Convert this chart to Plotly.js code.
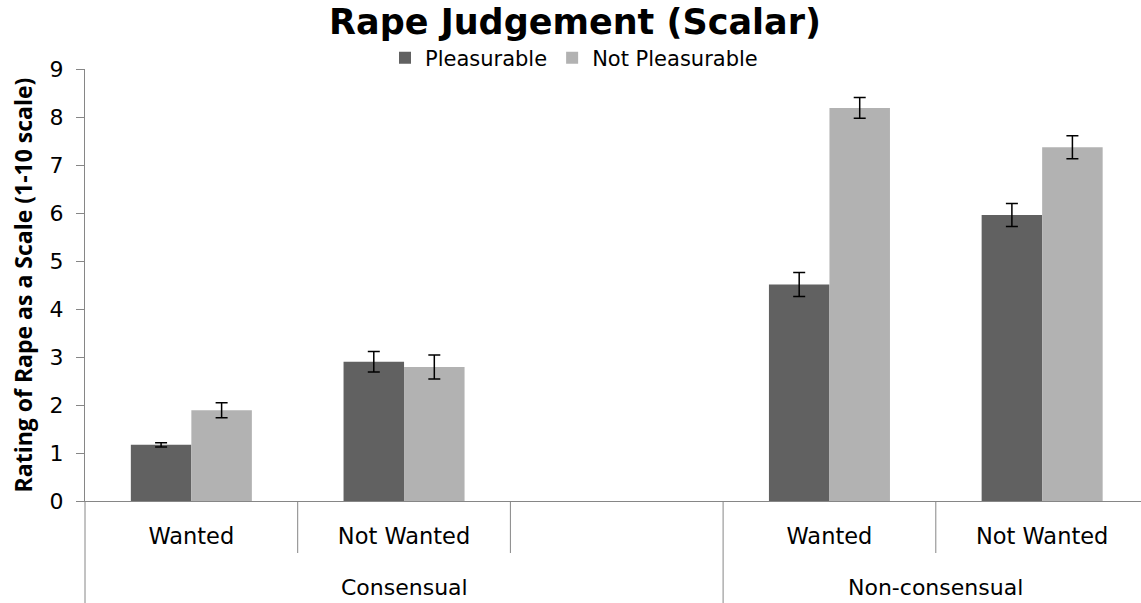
<!DOCTYPE html>
<html>
<head>
<meta charset="utf-8">
<script src="https://cdn.plot.ly/plotly-3.0.1.min.js"></script>
<style>
  html, body { margin: 0; padding: 0; background: #ffffff; }
  #chart { width: 1141px; height: 603px; }
</style>
</head>
<body>
<div id="chart"></div>
<script>
// ---- data ----
const categories = ["Wanted", "Not Wanted", "", "Wanted", "Not Wanted"];
const groups = ["Consensual", "Consensual", "Consensual", "Non-consensual", "Non-consensual"];
const seriesNames = ["Pleasurable", "Not Pleasurable"];
const pleasurable = [1.17, 2.90, null, 4.51, 5.96];
const pleasurableErr = [0.045, 0.215, null, 0.25, 0.24];
const notPleasurable = [1.89, 2.79, null, 8.19, 7.37];
const notPleasurableErr = [0.155, 0.25, null, 0.215, 0.24];
const yTickVals = [0, 1, 2, 3, 4, 5, 6, 7, 8, 9];

// ---- styling ----
const DARK = "#616161";
const LIGHT = "#b2b2b2";
const AXIS = "#868686";
const REG = "DejaVu Sans";

const xIdx = categories.map((_, i) => i);

function errBar(arr) {
  return { type: "data", array: arr, visible: true, color: "#000000", thickness: 1.5, width: 6 };
}

const traces = [
  {
    type: "bar", name: seriesNames[0], x: xIdx, y: pleasurable,
    marker: { color: DARK }, error_y: errBar(pleasurableErr), hoverinfo: "y"
  },
  {
    type: "bar", name: seriesNames[1], x: xIdx, y: notPleasurable,
    marker: { color: LIGHT }, error_y: errBar(notPleasurableErr), hoverinfo: "y"
  }
];

// geometry of the plot area
const W = 1141, H = 603;
const mL = 85, mT = 69, mB = 102, mR = 0;
const plotH = H - mT - mB;
const slotPx = 212.7;
const xMax = -0.5 + (W - mL - mR) / slotPx;

const shortBottom = -(553 - (H - mB)) / plotH;
const longBottom = -mB / plotH;

// dividers between category slots, long when the group changes
const shapes = [];
shapes.push({ type: "line", xref: "paper", yref: "paper", x0: 0, x1: 0, y0: 0, y1: longBottom,
  line: { color: AXIS, width: 1 } });
for (let i = 0; i < categories.length - 1; i++) {
  const long = groups[i] !== groups[i + 1];
  shapes.push({ type: "line", xref: "x", yref: "paper", x0: i + 0.5, x1: i + 0.5,
    y0: 0, y1: long ? longBottom : shortBottom, line: { color: AXIS, width: 1 } });
}

// group labels centred on their slots
const annotations = [];
const uniq = [...new Set(groups)];
uniq.forEach(g => {
  const idx = groups.map((v, i) => v === g ? i : -1).filter(i => i >= 0);
  const c = (idx[0] + idx[idx.length - 1]) / 2;
  annotations.push({ text: g, x: c, xref: "x", y: -(587 - (H - mB)) / plotH, yref: "paper",
    xanchor: "center", yanchor: "middle", showarrow: false,
    font: { family: REG, size: 22, color: "#000000" } });
});

const layout = {
  width: W, height: H,
  margin: { l: mL, r: mR, t: mT, b: mB, pad: 0 },
  paper_bgcolor: "#ffffff", plot_bgcolor: "#ffffff",
  showlegend: true,
  title: {
    text: "Rape Judgement (Scalar)",
    font: { family: REG, size: 35, weight: "bold", color: "#000000" },
    x: 575 / W, xanchor: "center", xref: "container",
    y: 1 - 22 / H, yanchor: "middle", yref: "container"
  },
  legend: {
    orientation: "h", x: (574 - mL) / (W - mL - mR), xanchor: "center",
    y: 1 + (mT - 58) / plotH, yanchor: "middle",
    font: { family: REG, size: 21, color: "#000000" },
    bgcolor: "rgba(0,0,0,0)", itemclick: false, itemdoubleclick: false,
    tracegroupgap: 0, itemwidth: 30
  },
  barmode: "group",
  bargap: 0.431,
  bargroupgap: 0,
  xaxis: {
    type: "linear", range: [-0.5, xMax], fixedrange: true,
    tickmode: "array", tickvals: xIdx, ticktext: categories,
    ticks: "", showgrid: false, zeroline: false,
    showline: true, linecolor: AXIS, linewidth: 1,
    tickfont: { family: REG, size: 22.5, color: "#000000" },
    ticklabelstandoff: 15
  },
  yaxis: {
    range: [0, 9], fixedrange: true,
    tickmode: "array", tickvals: yTickVals, ticktext: yTickVals.map(String),
    ticks: "outside", ticklen: 8, tickwidth: 1, tickcolor: AXIS,
    showgrid: false, zeroline: false,
    showline: true, linecolor: AXIS, linewidth: 1,
    tickfont: { family: REG, size: 22, color: "#000000" },
    ticklabelstandoff: 8,
    title: {
      text: "Rating of Rape as a Scale (1-10 scale)",
      font: { family: "Open Sans", size: 23, weight: "bold", color: "#000000" },
      standoff: 10
    }
  },
  shapes: shapes,
  annotations: annotations
};

Plotly.newPlot("chart", traces, layout, { displayModeBar: false, staticPlot: true });
</script>
</body>
</html>
